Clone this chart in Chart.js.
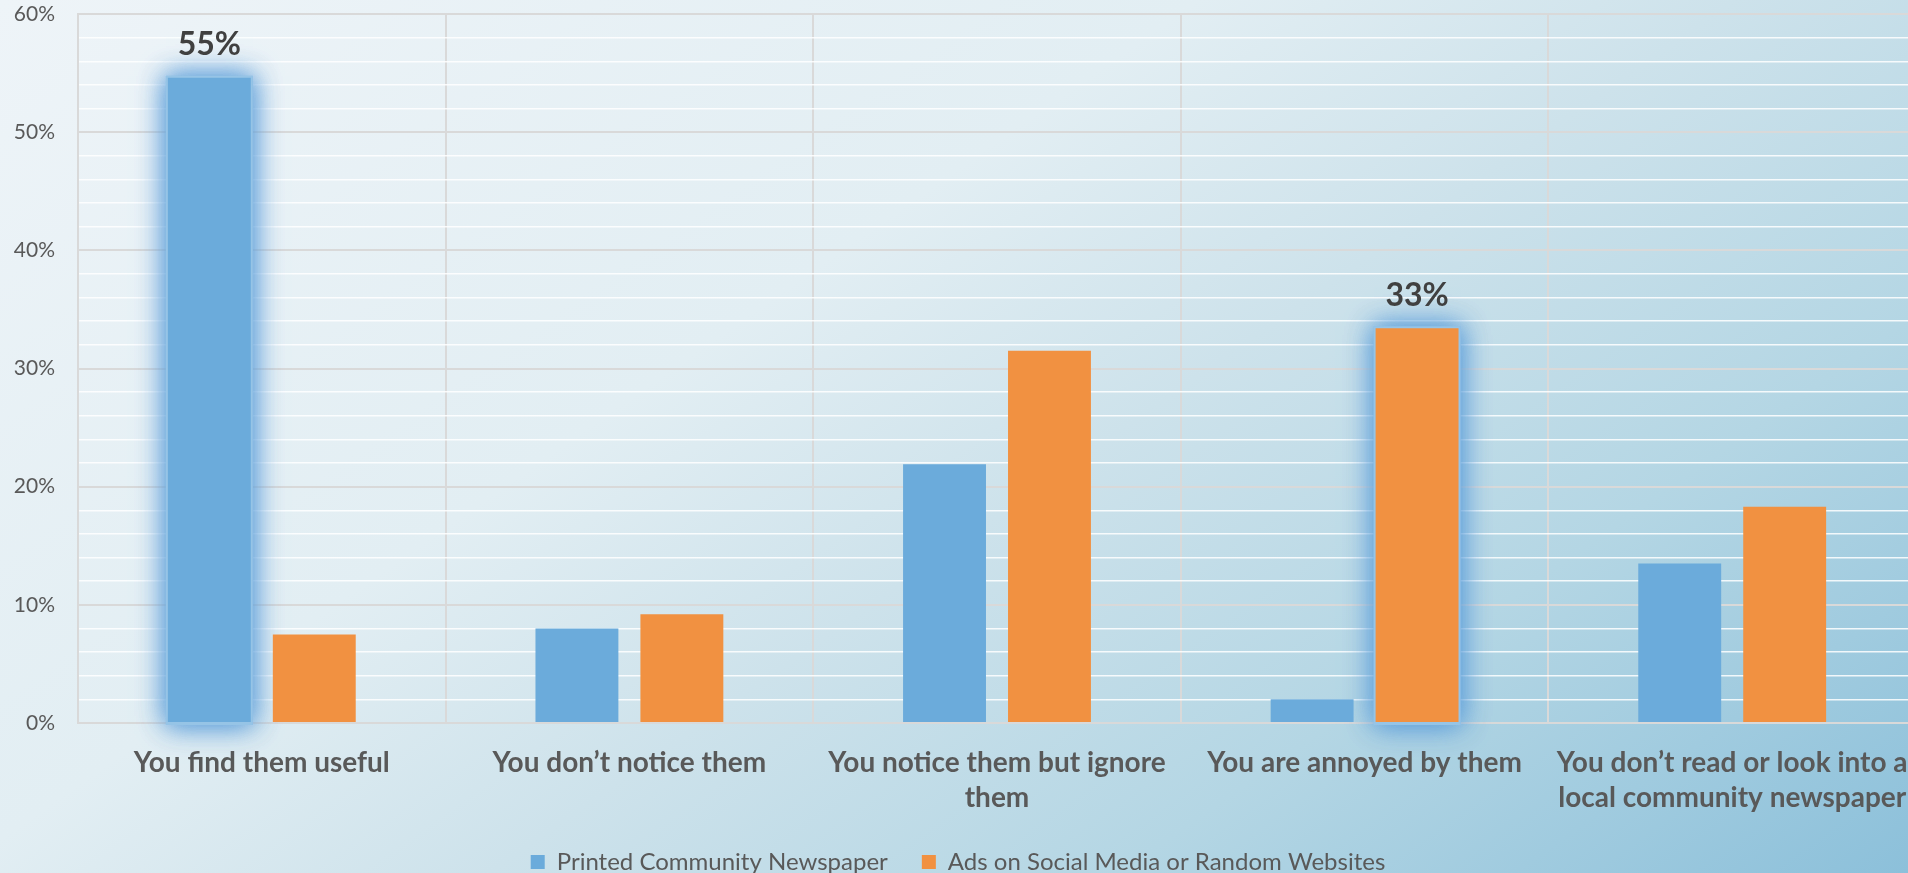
<!DOCTYPE html>
<html>
<head>
<meta charset="utf-8">
<script src="https://cdn.jsdelivr.net/npm/chart.js@4.4.1/dist/chart.umd.min.js"></script>
<style>
  html, body { margin: 0; padding: 0; }
  body {
    width: 1908px; height: 873px; overflow: hidden;
    background: linear-gradient(145deg, #eef4f8 0%, #e2eef3 38%, #cde2eb 55%, #b4d6e4 75%, #8cc0da 100%);
  }
  #wrap { position: absolute; left: 0; top: 0; width: 1916px; height: 873px; }
</style>
</head>
<body>
<div id="wrap"><canvas id="myChart" width="1916" height="873"></canvas></div>
<script>
const categories = [
  "You find them useful",
  "You don’t notice them",
  ["You notice them but ignore", "them"],
  "You are annoyed by them",
  ["You don’t read or look into a", "local community newspaper"]
];
const printedValues = [54.6, 8.0, 21.9, 2.0, 13.5];
const adsValues = [7.5, 9.2, 31.5, 33.4, 18.3];
const seriesNames = ["Printed Community Newspaper", "Ads on Social Media or Random Websites"];

const blue = "#6babdb";
const orange = "#f19141";
const gridGrey = "#d9d9d9";
const textGrey = "#595959";

// the tallest bar of each series gets a glow and a value label
function isPeak(chart, di, i) {
  const data = chart.data.datasets[di].data;
  return data[i] === Math.max(...data);
}

const peakGlow = {
  id: "peakGlow",
  beforeDatasetsDraw(chart) {
    const ctx = chart.ctx;
    chart.data.datasets.forEach((ds, di) => {
      chart.getDatasetMeta(di).data.forEach((bar, i) => {
        if (!isPeak(chart, di, i)) return;
        const w = bar.width;
        ctx.save();
        ctx.shadowColor = "rgba(95,160,218,0.9)";
        ctx.shadowBlur = 26;
        ctx.fillStyle = "rgba(150,196,230,1)";
        for (let k = 0; k < 2; k++) {
          ctx.fillRect(bar.x - w / 2 - 2, bar.y - 2, w + 4, bar.base - bar.y + 5);
        }
        ctx.restore();
      });
    });
  },
  afterDatasetsDraw(chart) {
    const ctx = chart.ctx;
    chart.data.datasets.forEach((ds, di) => {
      chart.getDatasetMeta(di).data.forEach((bar, i) => {
        if (!isPeak(chart, di, i)) return;
        ctx.save();
        ctx.font = "bold 32px Lato";
        ctx.fillStyle = "#404040";
        ctx.textAlign = "center";
        ctx.textBaseline = "middle";
        ctx.fillText(Math.round(ds.data[i]) + "%", bar.x, bar.y - 33);
        ctx.restore();
      });
    });
  }
};

new Chart(document.getElementById("myChart"), {
  type: "bar",
  data: {
    labels: categories,
    datasets: [
      { label: seriesNames[0], data: printedValues, backgroundColor: blue },
      { label: seriesNames[1], data: adsValues, backgroundColor: orange }
    ]
  },
  options: {
    responsive: false,
    devicePixelRatio: 1,
    animation: false,
    categoryPercentage: 0.571,
    barPercentage: 0.79,
    layout: { padding: { top: 14, left: 0, right: 0, bottom: 0 } },
    plugins: {
      tooltip: { enabled: false },
      legend: {
        position: "bottom",
        maxHeight: 57,
        labels: {
          boxWidth: 14,
          boxHeight: 14,
          padding: 34,
          color: textGrey,
          font: { family: "Lato", size: 24 }
        }
      }
    },
    scales: {
      x: {
        grid: { color: gridGrey, lineWidth: 2, drawTicks: false },
        border: { color: gridGrey, width: 2 },
        ticks: {
          color: textGrey,
          padding: 22,
          maxRotation: 0,
          autoSkip: false,
          font: { family: "Lato", size: 28, weight: "bold", lineHeight: 1.25 }
        },
        afterFit(scale) {
          scale.height = 93;
          scale.paddingLeft = 0;
          scale.paddingRight = 0;
        }
      },
      y: {
        min: 0,
        max: 60,
        grid: {
          tickLength: 22,
          tickColor: "rgba(0,0,0,0)",
          color: c => (c.tick.value % 10 === 0 ? gridGrey : "rgba(255,255,255,0.85)"),
          lineWidth: c => (c.tick.value % 10 === 0 ? 2 : 1.5)
        },
        border: { color: gridGrey, width: 2 },
        ticks: {
          stepSize: 2,
          autoSkip: false,
          padding: 1,
          color: textGrey,
          font: { family: "Lato", size: 21 },
          callback: v => (v % 10 === 0 ? v + "%" : "")
        },
        afterFit(scale) { scale.width = 78; }
      }
    }
  },
  plugins: [peakGlow]
});
</script>
</body>
</html>
